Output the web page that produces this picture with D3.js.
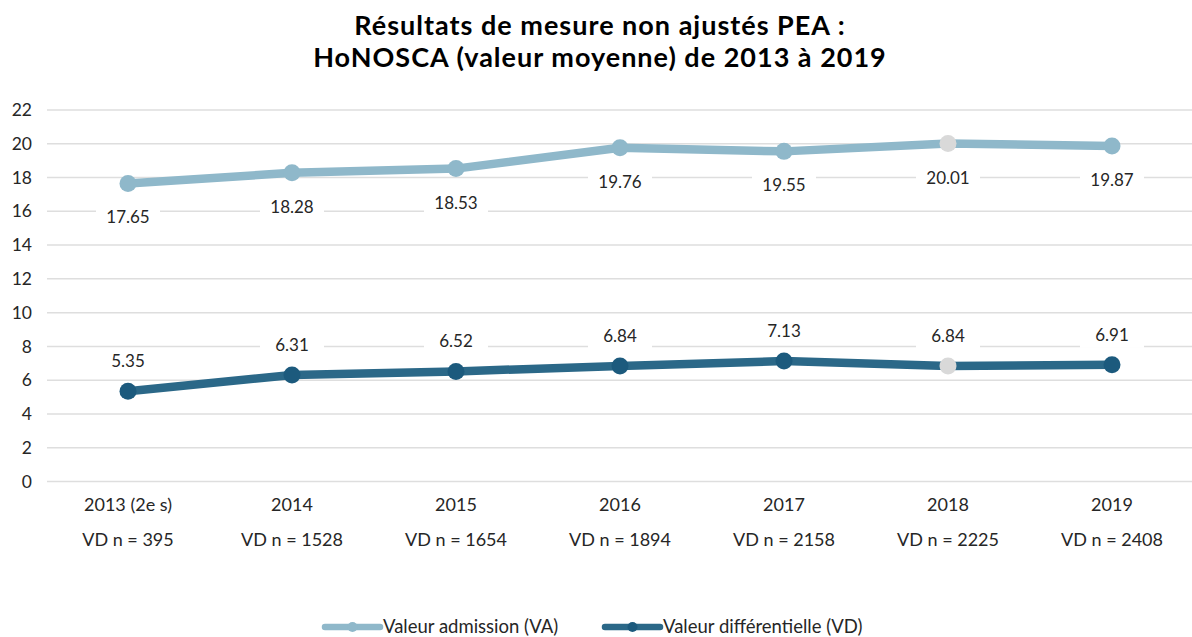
<!DOCTYPE html>
<html>
<head>
<meta charset="utf-8">
<script src="https://cdn.jsdelivr.net/npm/d3@7"></script>
<style>
  body { margin: 0; background: #fff; }
  text { font-family: Lato, "Open Sans", sans-serif; fill: #262626; }
</style>
</head>
<body>
<div id="chart"></div>
<script>
// data
var years = ["2013 (2e s)", "2014", "2015", "2016", "2017", "2018", "2019"];
var sampleLabels = ["VD n = 395", "VD n = 1528", "VD n = 1654", "VD n = 1894", "VD n = 2158", "VD n = 2225", "VD n = 2408"];
var admission = [17.65, 18.28, 18.53, 19.76, 19.55, 20.01, 19.87];
var differentielle = [5.35, 6.31, 6.52, 6.84, 7.13, 6.84, 6.91];
var yTicks = [0, 2, 4, 6, 8, 10, 12, 14, 16, 18, 20, 22];
var highlightYear = "2018";

var W = 1192, H = 637;

var svg = d3.select("#chart").append("svg")
    .attr("width", W)
    .attr("height", H);

// title
var titleLines = ["Résultats de mesure non ajustés PEA :", "HoNOSCA (valeur moyenne) de 2013 à 2019"];
svg.append("g")
    .selectAll("text")
    .data(titleLines)
    .join("text")
    .attr("x", 600)
    .attr("y", (d, i) => 35 + i * 32)
    .attr("text-anchor", "middle")
    .style("font-size", "27px").style("font-weight", "bold")
    .style("letter-spacing", "1px")
    .style("fill", "#000")
    .text(d => d);

var x = d3.scaleBand()
    .domain(years)
    .range([46, 1194]);

var y = d3.scaleLinear()
    .domain([0, 22])
    .range([481.5, 110]);

// grid
svg.append("g")
    .selectAll("line")
    .data(yTicks)
    .join("line")
    .attr("x1", 47).attr("x2", W)
    .attr("y1", d => y(d)).attr("y2", d => y(d))
    .style("stroke", "#dedede")
    .style("stroke-width", 1.5);

// y axis labels
svg.append("g")
    .selectAll("text")
    .data(yTicks)
    .join("text")
    .attr("x", 32)
    .attr("y", d => y(d))
    .attr("dy", "0.35em")
    .attr("text-anchor", "end")
    .style("font-size", "17.5px")
    .text(d => d);

// x axis labels
var cx = d => x(d) + x.bandwidth() / 2;
svg.append("g")
    .selectAll("text")
    .data(years)
    .join("text")
    .attr("x", cx)
    .attr("y", 505)
    .attr("dy", "0.35em")
    .attr("text-anchor", "middle")
    .style("font-size", "18px")
    .text(d => d);
svg.append("g")
    .selectAll("text")
    .data(sampleLabels)
    .join("text")
    .attr("x", (d, i) => cx(years[i]))
    .attr("y", 540)
    .attr("dy", "0.35em")
    .attr("text-anchor", "middle")
    .style("font-size", "18px")
    .text(d => d);

var series = [
    { name: "Valeur admission (VA)", values: admission, color: "#8fb8ca", dot: "#8fb8ca", labelDy: 34 },
    { name: "Valeur différentielle (VD)", values: differentielle, color: "#2b6888", dot: "#1c5a7d", labelDy: -30 }
];

var line = d3.line()
    .x((d, i) => cx(years[i]))
    .y(d => y(d));

series.forEach(function(s) {
    svg.append("path")
        .datum(s.values)
        .attr("d", line)
        .style("fill", "none")
        .style("stroke", s.color)
        .style("stroke-width", 8.5)
        .style("stroke-linejoin", "round");

    svg.append("g")
        .selectAll("circle")
        .data(s.values)
        .join("circle")
        .attr("cx", (d, i) => cx(years[i]))
        .attr("cy", d => y(d))
        .attr("r", 8.5)
        .style("fill", (d, i) => years[i] === highlightYear ? "#d9d9d9" : s.dot);

    // labels with white boxes
    var lab = svg.append("g")
        .selectAll("g")
        .data(s.values)
        .join("g")
        .attr("transform", (d, i) => "translate(" + cx(years[i]) + "," + (y(d) + s.labelDy) + ")");
    lab.append("rect")
        .attr("x", -32).attr("y", -13)
        .attr("width", 64).attr("height", 26)
        .style("fill", "#fff");
    lab.append("text")
        .attr("text-anchor", "middle")
        .attr("dy", "0.35em")
        .style("font-size", "17px")
        .text(d => d.toFixed(2));
});

// legend
var legend = svg.append("g");
var legX = [323, 603];
series.forEach(function(s, i) {
    var g = legend.append("g").attr("transform", "translate(" + legX[i] + ",627)");
    g.append("line")
        .attr("x1", 2).attr("x2", 57)
        .style("stroke", s.color)
        .style("stroke-width", 6.5)
        .style("stroke-linecap", "round");
    g.append("circle").attr("cx", 29.5).attr("r", 5).style("fill", s.dot);
    g.append("text")
        .attr("x", 60)
        .attr("dy", "0.35em")
        .style("font-size", "18.5px")
        .text(s.name);
});
</script>
</body>
</html>
